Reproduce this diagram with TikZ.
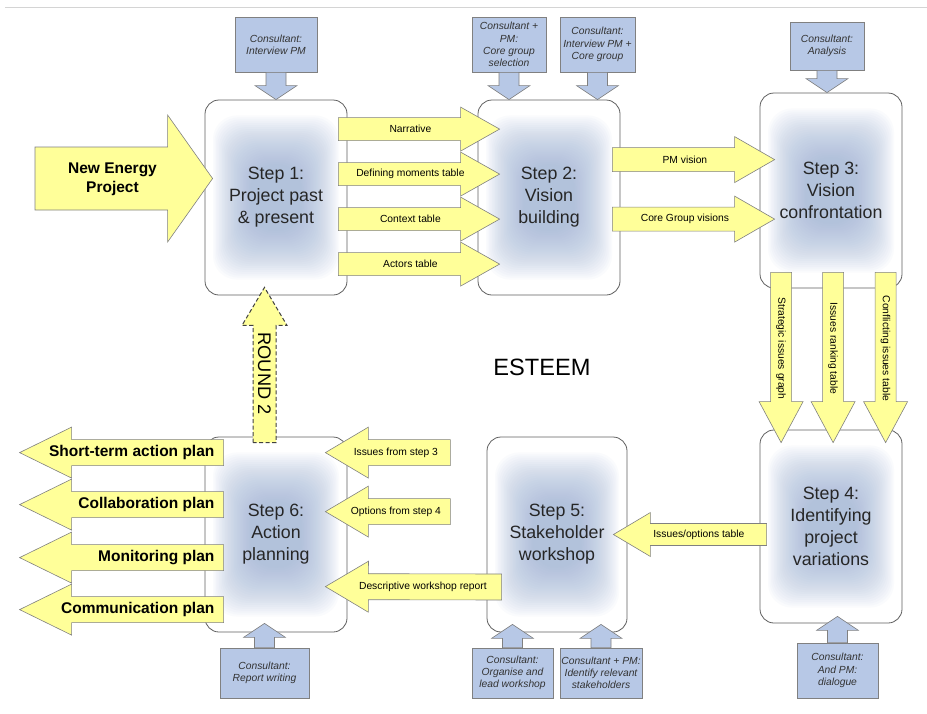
\documentclass[tikz,border=0pt]{standalone}
\usepackage{fontspec}
\setmainfont{Liberation Sans}
\usetikzlibrary{calc}
\definecolor{arrowyellow}{HTML}{FFFF99}
\definecolor{consultblue}{HTML}{B7C8E6}
\definecolor{glowblue}{RGB}{155,176,212}
\definecolor{edgegray}{HTML}{5F5F5F}
\definecolor{arrowgray}{HTML}{808080}
\definecolor{rulegray}{HTML}{D4D4D4}

% block arrow from #2 to #3, sizes from the shaftw/headw/headl keys
\newcommand{\fatarrow}[3][]{%
  \draw[blockarrow,#1] let \p1=#2, \p2=#3, \p3=($(\p2)!\headl!(\p1)$) in
    ($(\p1)!\shaftw!90:(\p2)$) -- ($(\p3)!\shaftw!-90:(\p1)$)
    -- ($(\p3)!\headw!-90:(\p1)$) -- (\p2) -- ($(\p3)!\headw!90:(\p1)$)
    -- ($(\p3)!\shaftw!90:(\p1)$) -- ($(\p1)!\shaftw!-90:(\p2)$) -- cycle;}

\begin{document}
\begin{tikzpicture}[x=1pt, y=-1pt,
  stepbox/.style={draw=edgegray, line width=0.8pt, fill=white, rounded corners=14pt,
    minimum width=142pt, minimum height=195pt, inner sep=0pt, align=center,
    font=\fontsize{17.8}{22}\selectfont, text=black!85,
    path picture={\foreach \g [evaluate=\g as \gy using 1.3*\g+5] in {8,9.5,...,46}
      \fill[glowblue, fill opacity=0.045, rounded corners=24pt]
        ([xshift=\g pt, yshift=\gy pt]path picture bounding box.south west) rectangle
        ([xshift=-\g pt, yshift=-\gy pt]path picture bounding box.north east);}},
  consult/.style={draw=arrowgray, line width=0.6pt, fill=consultblue, inner sep=0pt,
    align=center, font=\fontsize{10.3}{12.3}\selectfont\itshape, text=black!80},
  lab/.style={font=\fontsize{10.3}{12}\selectfont, inner sep=0pt},
  planlab/.style={font=\fontsize{15.5}{18}\selectfont\bfseries, anchor=east, inner sep=0pt},
  shaftw/.store in=\shaftw, headw/.store in=\headw, headl/.store in=\headl,
  blockarrow/.style={draw=arrowgray, line width=0.6pt, fill=arrowyellow},
  consultarrow/.style={fill=consultblue, shaftw=10pt, headw=21pt, headl=14pt},
  tablearrow/.style={shaftw=11.5pt, headw=22pt, headl=39pt},
  visionarrow/.style={shaftw=12pt, headw=23pt, headl=40pt},
  issuearrow/.style={shaftw=10.5pt, headw=22pt, headl=41pt},
  optarrow/.style={shaftw=11pt, headw=22pt, headl=37pt},
  inarrow/.style={shaftw=13pt, headw=25.5pt, headl=43pt},
  planarrow/.style={shaftw=13pt, headw=25.5pt, headl=52pt},
  bigarrow/.style={shaftw=31.5pt, headw=63.5pt, headl=45pt},
  roundarrow/.style={dashed, dash pattern=on 4pt off 2.5pt, draw=black!75, line width=1pt,
    shaftw=11.5pt, headw=22.5pt, headl=38pt}]
  \useasboundingbox (0,0) rectangle (927,713);
  \draw[rulegray, line width=0.8pt] (5,7.5) -- (927,7.5);

  % Steps
  \node[stepbox] (s1) at (276,197.5) {Step 1:\\Project past\\\& present};
  \node[stepbox] (s2) at (549,197.5) {Step 2:\\Vision\\building};
  \node[stepbox] (s3) at (831,190.5) {Step 3:\\Vision\\confrontation};
  \node[stepbox, minimum height=193pt] (s4) at (831,526.5) {Step 4:\\Identifying\\project\\variations};
  \node[stepbox, minimum width=140pt] (s5) at (557,534.5) {Step 5:\\Stakeholder\\workshop};
  \node[stepbox] (s6) at (276,534.5) {Step 6:\\Action\\planning};

  % Consultant tasks
  \node[consult, minimum width=82pt, minimum height=55pt] (c1) at (276,44.5) {Consultant:\\Interview PM};
  \node[consult, minimum width=74pt, minimum height=55pt] (c2) at (509,44.5) {Consultant +\\PM:\\Core group\\selection};
  \node[consult, minimum width=75pt, minimum height=55pt] (c3) at (597.5,44.5) {Consultant:\\Interview PM +\\Core group};
  \node[consult, minimum width=74pt, minimum height=48pt] (c4) at (827,46) {Consultant:\\Analysis};
  \node[consult, minimum width=89pt, minimum height=50pt] (c5) at (264.5,673) {Consultant:\\Report writing};
  \node[consult, minimum width=81pt, minimum height=50pt] (c6) at (512.5,673) {Consultant:\\Organise and\\lead workshop};
  \node[consult, minimum width=82pt, minimum height=50pt] (c7) at (601,673) {Consultant + PM:\\Identify relevant\\stakeholders};
  \node[consult, minimum width=81pt, minimum height=55pt] (c8) at (837.5,670.5) {Consultant:\\And PM:\\dialogue};

  \foreach \cb/\sb in {c1/s1, c2/s2, c3/s2, c4/s3} {
    \fatarrow[consultarrow]{(\cb.south)}{(\cb.south |- \sb.north)}
  }
  \foreach \cb/\sb/\d in {c5/s6/9, c6/s5/8, c7/s5/8, c8/s4/7} {
    \fatarrow[consultarrow]{(\cb.north)}{($(\cb.north |- \sb.south)+(0,-\d)$)}
  }

  % Step 1 -> step 2
  \foreach \dy/\txt [count=\k] in {29.5/Narrative, 74.5/Defining moments table,
      119.5/Context table, 164.5/Actors table} {
    \fatarrow[tablearrow]{($(s1.north east)+(-9,\dy)$)}{($(s2.north west)+(22,\dy)$)}
    \node[lab] (tab\k) at ($(s1.north east)+(63,\dy)$) {\txt};
  }

  % Step 2 -> step 3
  \foreach \dy/\txt [count=\k] in {60/PM vision, 119.5/Core Group visions} {
    \fatarrow[visionarrow]{($(s2.north east)+(-8,\dy)$)}{($(s3.north west)+(15,7)+(0,\dy)$)}
    \node[lab] (vis\k) at ($(s2.north east)+(64.5,\dy)$) {\txt};
  }

  % Step 3 -> step 4
  \foreach \dx/\txt [count=\k] in {21.5/Strategic issues graph, 73.5/Issues ranking table,
      126/Conflicting issues table} {
    \fatarrow[issuearrow]{($(s3.south west)+(\dx,-16)$)}{($(s4.north west)+(\dx,13)$)}
    \node[lab, rotate=-90] (iss\k) at ($(s3.south west)+(\dx,60)$) {\txt};
  }

  % Step 4 -> step 5
  \fatarrow[optarrow]{($(s4.west)+(7,8)$)}{($(s5.east)+(-14,0)$)}
  \node[lab] (opt) at ($(s5.east)+(71.5,0)$) {Issues/options table};

  % Into step 6
  \foreach \dy/\txt [count=\k] in {16/Issues from step 3, 75/Options from step 4} {
    \fatarrow[inarrow]{($(s6.north east)+(103,\dy)$)}{($(s6.north east)+(-22,\dy)$)}
    \node[lab] (in\k) at ($(s6.north east)+(48.5,\dy)$) {\txt};
  }
  \fatarrow[inarrow]{($(s5.west)+(15,52.5)$)}{($(s6.north east)+(-22,150)$)}
  \node[lab] (in3) at ($(s6.north east)+(75.5,150)$) {Descriptive workshop report};

  % Plans out of step 6
  \foreach \dy/\txt [count=\k] in {16/Short-term action plan, 68/Collaboration plan,
      121/Monitoring plan, 173/Communication plan} {
    \fatarrow[planarrow]{($(s6.north west)+(19,\dy)$)}{($(s6.north west)+(-185,\dy)$)}
    \node[planlab] (plan\k) at ($(s6.north west)+(10,\dy)$) {\txt};
  }

  % New project in, round 2 back
  \coordinate (np) at (35,178.5);
  \fatarrow[bigarrow]{(np)}{($(s1.west)+(8,-19)$)}
  \node[font=\fontsize{15.5}{19}\selectfont\bfseries, align=center] (proj) at (112.5,179) {New Energy\\Project};
  \fatarrow[roundarrow]{($(s6.north)+(-11.5,6)$)}{($(s1.south)+(-11.5,-8)$)}
  \node[font=\fontsize{18.2}{20}\selectfont, rotate=-90] (round) at ($(s6.north)+(-11.5,-63)$) {ROUND 2};

  \node[font=\fontsize{23.6}{28}\selectfont] (esteem) at (542,367) {ESTEEM};
\end{tikzpicture}
\end{document}
